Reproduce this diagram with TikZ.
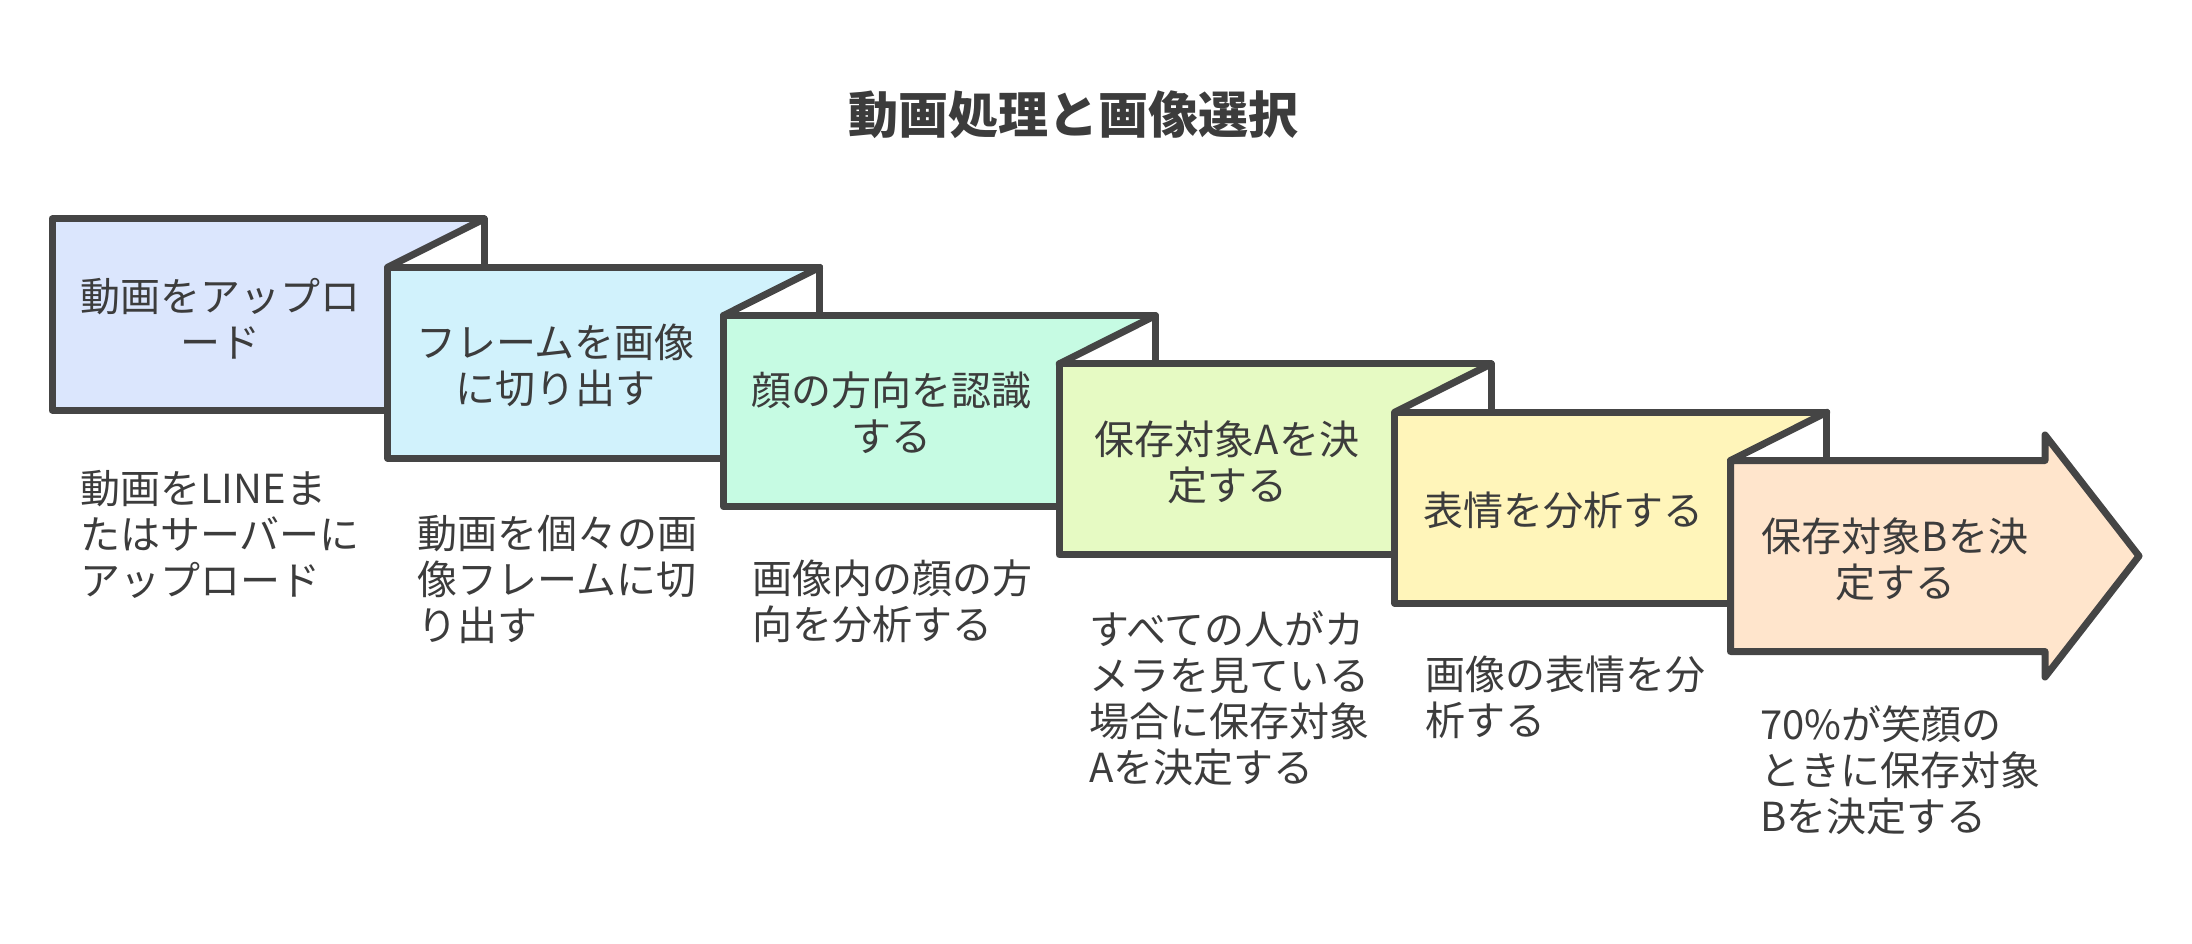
\documentclass[tikz,border=0pt]{standalone}
\usepackage{fontspec}
\setmainfont{Noto Sans CJK JP}
\definecolor{linec}{HTML}{454545}
\definecolor{textc}{HTML}{3C3C3C}
\definecolor{fa}{HTML}{DBE6FD}
\definecolor{fb}{HTML}{D1F2FC}
\definecolor{fc}{HTML}{C6FBE3}
\definecolor{fd}{HTML}{E6FAC3}
\definecolor{fe}{HTML}{FFF5BA}
\definecolor{ff}{HTML}{FFE5CC}
\begin{document}
\begin{tikzpicture}[x=1pt,y=-1pt,
  outl/.style={draw=linec, line width=7pt, line join=round, line cap=round},
  boxtxt/.style={font=\fontsize{40}{46}\selectfont, text=textc, align=center, inner sep=0pt},
  desc/.style={font=\fontsize{40}{46}\selectfont, text=textc, align=left, anchor=north west, inner sep=0pt},
  ttl/.style={font=\bfseries\fontsize{50}{56}\selectfont, text=textc, inner sep=0pt}]
\useasboundingbox (0,0) rectangle (2192,944);

\node[ttl] (title) at (1073,115) {動画処理と画像選択};

% box 1
\fill[fa] (52,219) -- (484,219) -- (387.7,267.3) -- (387.7,410) -- (52,410) -- cycle;
\draw[outl] (387.7,410) -- (52,410) -- (52,219) -- (484,219) -- (484,267.3);
\draw[outl] (484,219) -- (387.7,267.3);
% box 2
\fill[fb] (387.7,267.3) -- (819.7,267.3) -- (723.4,315.6) -- (723.4,458.3) -- (387.7,458.3) -- cycle;
\draw[outl] (723.4,458.3) -- (387.7,458.3) -- (387.7,267.3) -- (819.7,267.3) -- (819.7,315.6);
\draw[outl] (819.7,267.3) -- (723.4,315.6);
% box 3
\fill[fc] (723.4,315.6) -- (1155.4,315.6) -- (1059.1,363.9) -- (1059.1,506.6) -- (723.4,506.6) -- cycle;
\draw[outl] (1059.1,506.6) -- (723.4,506.6) -- (723.4,315.6) -- (1155.4,315.6) -- (1155.4,363.9);
\draw[outl] (1155.4,315.6) -- (1059.1,363.9);
% box 4
\fill[fd] (1059.1,363.9) -- (1491.1,363.9) -- (1394.8,412.2) -- (1394.8,554.9) -- (1059.1,554.9) -- cycle;
\draw[outl] (1394.8,554.9) -- (1059.1,554.9) -- (1059.1,363.9) -- (1491.1,363.9) -- (1491.1,412.2);
\draw[outl] (1491.1,363.9) -- (1394.8,412.2);
% box 5
\fill[fe] (1394.8,412.2) -- (1826.8,412.2) -- (1730.5,460.5) -- (1730.5,603.2) -- (1394.8,603.2) -- cycle;
\draw[outl] (1730.5,603.2) -- (1394.8,603.2) -- (1394.8,412.2) -- (1826.8,412.2) -- (1826.8,460.5);
\draw[outl] (1826.8,412.2) -- (1730.5,460.5);
% box 6 (arrow)
\filldraw[outl, fill=ff] (1730.5,460.5) -- (2045,460.5) -- (2045,435) -- (2139,556) -- (2045,677) -- (2045,651.5) -- (1730.5,651.5) -- cycle;

\node[boxtxt] (b1) at (220,319) {動画をアップロ\\ード};
\node[boxtxt] (b2) at (555.5,365) {フレームを画像\\に切り出す};
\node[boxtxt] (b3) at (891,413) {顔の方向を認識\\する};
\node[boxtxt] (b4) at (1227,462) {保存対象Aを決\\定する};
\node[boxtxt] (b5) at (1563,510) {表情を分析する};
\node[boxtxt] (b6) at (1895,559) {保存対象Bを決\\定する};

\node[desc] (d1) at (80,470) {動画をLINEま\\たはサーバーに\\アップロード};
\node[desc] (d2) at (417,515) {動画を個々の画\\像フレームに切\\り出す};
\node[desc] (d3) at (752,560) {画像内の顔の方\\向を分析する};
\node[desc] (d4) at (1089,610) {すべての人がカ\\メラを見ている\\場合に保存対象\\Aを決定する};
\node[desc] (d5) at (1425,656) {画像の表情を分\\析する};
\node[desc] (d6) at (1760,705) {70\%が笑顔の\\ときに保存対象\\Bを決定する};
\end{tikzpicture}
\end{document}
